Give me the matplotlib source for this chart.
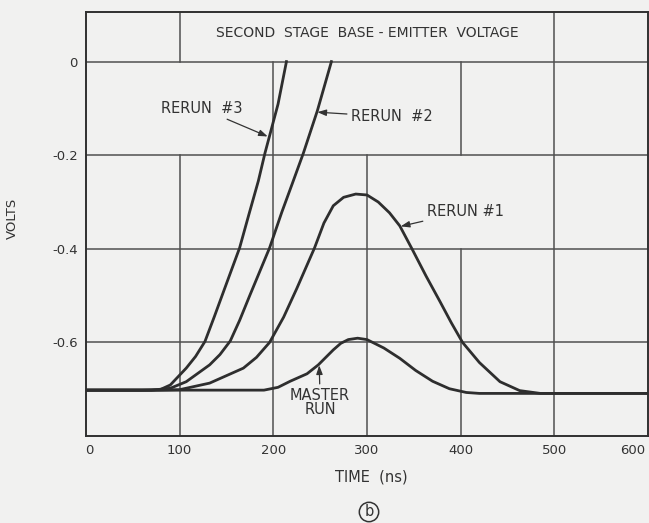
import numpy as np
import matplotlib.pyplot as plt
import matplotlib.transforms as mtransforms

# values (time in ns, volts)
master_t = [0, 190, 205, 218, 236, 248, 264, 272, 280, 290, 300, 318, 335, 352, 370, 388, 406, 420, 600]
master_v = [-0.702, -0.702, -0.696, -0.683, -0.667, -0.648, -0.616, -0.602, -0.594, -0.591,
            -0.594, -0.612, -0.634, -0.660, -0.683, -0.699, -0.707, -0.709, -0.709]

rerun1_t = [0, 80, 100, 132, 168, 182, 196, 211, 225, 244, 254, 264, 275, 288, 300, 312,
            324, 335, 348, 363, 378, 390, 402, 420, 442, 463, 485, 600]
rerun1_v = [-0.702, -0.702, -0.701, -0.687, -0.655, -0.632, -0.600, -0.546, -0.485, -0.398,
            -0.345, -0.308, -0.290, -0.283, -0.285, -0.300, -0.323, -0.351, -0.400, -0.458,
            -0.513, -0.558, -0.600, -0.643, -0.684, -0.703, -0.709, -0.709]

rerun2_t = [0, 70, 90, 107, 132, 143, 154, 164, 175, 196, 209, 220, 232, 247, 262]
rerun2_v = [-0.702, -0.702, -0.698, -0.684, -0.648, -0.626, -0.597, -0.553, -0.499, -0.398,
            -0.322, -0.262, -0.196, -0.105, 0.0]

rerun3_t = [0, 60, 79, 90, 107, 117, 127, 137, 148, 164, 174, 184, 191, 205, 214]
rerun3_v = [-0.702, -0.702, -0.701, -0.691, -0.655, -0.630, -0.598, -0.545, -0.485, -0.398,
            -0.326, -0.255, -0.196, -0.091, 0.0]

xticks = [0, 100, 200, 300, 400, 500, 600]
yticks = [0, -0.2, -0.4, -0.6]
ytick_labels = ['0', '-0.2', '-0.4', '-0.6']

# chart-paper grid: full horizontals, broken verticals (x, ymin, ymax)
h_lines = [0, -0.2, -0.4, -0.6]
v_segments = [(100, -0.8, -0.2), (100, 0.0, 0.2), (200, -0.8, 0.0), (300, -0.8, -0.2),
              (400, -0.8, -0.4), (400, -0.2, 0.0), (500, -0.8, 0.2)]

bg = '#f1f1f0'
ink = '#2e2e2e'
grid = '#505050'

fig = plt.figure(figsize=(6.49, 5.23), dpi=100, facecolor=bg)
ax = fig.add_axes([86/649, 87/523, 562/649, 424/523], facecolor=bg)
ax.set_xlim(0, 600)
ax.set_ylim(-0.8, 0.106)

for y in h_lines:
    ax.axhline(y, color=grid, lw=1.1, zorder=1)
for x, y0, y1 in v_segments:
    ax.plot([x, x], [y0, y1], color=grid, lw=1.1, zorder=1)

for t, v in [(master_t, master_v), (rerun1_t, rerun1_v), (rerun2_t, rerun2_v), (rerun3_t, rerun3_v)]:
    ax.plot(t, v, color=ink, lw=2.0, solid_joinstyle='round', zorder=3)

ax.set_xticks(xticks)
ax.set_yticks(yticks)
ax.set_yticklabels(ytick_labels)
ax.tick_params(length=0, labelsize=9.5, labelcolor='#333333', pad=6)
# nudge the end labels inward like the original lettering
xl = ax.get_xticklabels()
xl[0].set_transform(xl[0].get_transform() + mtransforms.ScaledTranslation(3/100, 0, fig.dpi_scale_trans))
xl[-1].set_transform(xl[-1].get_transform() + mtransforms.ScaledTranslation(-15/100, 0, fig.dpi_scale_trans))
for s in ax.spines.values():
    s.set_color('#303030')
    s.set_linewidth(1.4)

txt = dict(color='#333333', fontsize=10.5)
ax.text(300, 0.062, 'SECOND  STAGE  BASE - EMITTER  VOLTAGE', ha='center', va='center',
        color='#333333', fontsize=10)

arrow = dict(arrowstyle='-|>,head_length=0.5,head_width=0.18', color='#333333', lw=0.9,
             shrinkA=1, shrinkB=0)
ax.annotate('RERUN  #3', xy=(194, -0.160), xytext=(167, -0.100), ha='right', va='center',
            arrowprops=arrow, **txt)
ax.annotate('RERUN  #2', xy=(247, -0.108), xytext=(283, -0.118), ha='left', va='center',
            arrowprops=arrow, **txt)
ax.annotate('RERUN #1', xy=(336, -0.352), xytext=(364, -0.320), ha='left', va='center',
            arrowprops=arrow, **txt)
ax.annotate('MASTER\nRUN', xy=(249, -0.649), xytext=(250, -0.729), ha='center', va='center',
            linespacing=0.95, arrowprops=arrow, **txt)

fig.text(12/649, 1 - 218/523, 'VOLTS', rotation=90, ha='center', va='center',
         color='#333333', fontsize=9.5)
fig.text(371/649, 1 - 477/523, 'TIME  (ns)', ha='center', va='center', **txt)
fig.text(369/649, 1 - 512/523, 'b', ha='center', va='center',
         bbox=dict(boxstyle='circle,pad=0.15', fc='none', ec='#333333', lw=1.1), **txt)

fig.savefig('out.png', dpi=100, facecolor=bg)
